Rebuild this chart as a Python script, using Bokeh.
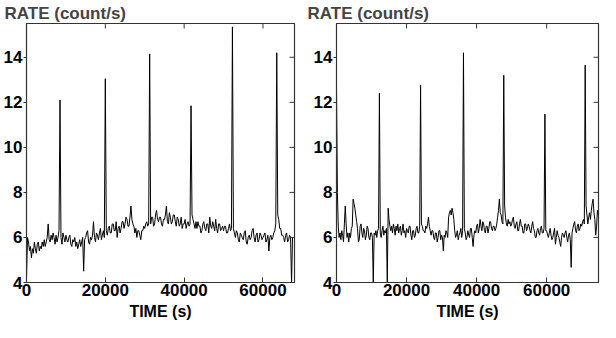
import math
from bokeh.plotting import figure
from bokeh.models import Range1d, FixedTicker
from bokeh.layouts import row
from bokeh.embed import file_html
from bokeh.resources import INLINE

# ---- data ----
BIN = 250  # seconds per bin

left_rate = [
    4.2, 6.0, 5.8, 5.4, 5.6, 5.1, 5.5, 5.3, 5.8, 5.5, 5.3, 5.7, 5.8, 5.4, 5.6, 5.5, 5.8, 5.6, 5.9, 5.6,
    5.8, 6.0, 6.6, 5.9, 5.8, 6.1, 5.9, 6.2, 6.0, 5.7, 6.1, 5.8, 6.0, 6.3, 12.1, 6.0, 5.7, 6.2, 6.0, 5.8,
    6.1, 5.9, 5.8, 6.0, 6.1, 5.7, 5.6, 5.9, 5.8, 6.0, 5.6, 5.8, 5.5, 5.7, 5.9, 5.6, 5.8, 6.0, 4.5, 5.9,
    6.0, 6.2, 6.3, 5.8, 5.7, 6.0, 5.9, 6.1, 6.7, 6.0, 5.8, 6.2, 6.1, 5.9, 6.2, 6.4, 5.9, 6.1, 6.3, 6.0,
    13.05, 6.3, 6.1, 6.4, 6.5, 6.2, 6.2, 6.6, 6.6, 6.3, 6.3, 6.7, 6.0, 6.4, 6.5, 6.2, 6.4, 6.7, 6.7, 6.4,
    6.6, 6.9, 6.8, 6.5, 6.5, 6.9, 7.4, 6.8, 6.6, 6.5, 6.2, 6.4, 6.0, 6.3, 6.3, 6.1, 5.9, 6.3, 6.3, 6.5,
    6.4, 6.6, 6.7, 6.5, 6.6, 14.15, 6.6, 6.9, 6.9, 6.5, 6.6, 7.0, 7.2, 6.8, 6.7, 6.9, 6.9, 6.6, 6.5, 6.8,
    6.8, 7.0, 7.4, 6.7, 6.6, 7.1, 6.9, 6.6, 6.7, 7.0, 7.0, 6.7, 6.5, 6.9, 6.8, 6.5, 6.6, 6.9, 6.4, 6.6,
    6.6, 6.8, 6.4, 6.6, 6.7, 6.5, 6.6, 11.85, 7.0, 6.8, 6.6, 6.4, 6.7, 6.4, 6.7, 6.5, 6.5, 6.2, 6.3, 6.6,
    6.7, 6.4, 6.3, 6.6, 6.6, 6.2, 6.9, 6.5, 6.4, 6.7, 6.5, 6.3, 6.8, 6.4, 6.2, 6.6, 6.6, 6.3, 6.4, 6.5,
    6.3, 6.5, 6.5, 6.2, 6.2, 6.4, 6.6, 6.3, 6.4, 15.35, 6.4, 6.2, 6.0, 6.3, 6.2, 5.9, 5.8, 6.2, 6.1, 6.0,
    5.9, 6.2, 6.3, 5.8, 5.7, 6.0, 6.1, 5.9, 6.0, 6.3, 6.4, 6.0, 5.8, 6.1, 6.2, 5.8, 5.9, 6.2, 6.1, 5.9,
    6.0, 6.1, 6.2, 5.8, 5.9, 6.1, 5.4, 6.0, 6.1, 5.9, 6.0, 6.2, 6.3, 6.6, 14.2, 7.0, 6.8, 6.4, 6.4, 6.1,
    6.1, 6.0, 5.8, 6.1, 6.2, 5.8, 5.9, 6.1, 6.0, 4.0, 6.0,
]

right_rate = [
    12.6, 8.0, 6.5, 6.0, 6.2, 5.9, 6.3, 6.1, 5.8, 6.6, 7.4, 6.6, 6.0, 6.2, 5.8, 6.2, 6.0, 6.4, 6.5, 7.7,
    7.5, 7.3, 7.0, 6.7, 6.4, 5.8, 5.9, 6.5, 6.6, 6.2, 6.0, 6.4, 6.3, 5.9, 6.1, 6.5, 6.4, 6.0, 5.9, 6.2,
    6.2, 6.0, 4.0, 6.2, 6.1, 6.3, 6.0, 6.3, 6.4, 12.4, 6.2, 6.0, 6.3, 6.5, 6.1, 6.3, 6.2, 6.4, 4.0, 7.3,
    6.8, 6.5, 6.3, 6.5, 6.2, 6.6, 6.4, 6.1, 6.5, 6.3, 6.6, 6.2, 6.4, 6.5, 6.1, 6.3, 6.6, 6.2, 6.3, 6.0,
    6.4, 6.3, 6.2, 6.5, 6.5, 6.1, 5.9, 6.3, 6.3, 6.0, 6.1, 6.4, 6.5, 6.2, 6.2, 6.5, 12.77, 6.6, 6.5, 6.3,
    6.3, 6.2, 6.5, 6.4, 6.6, 6.9, 6.5, 6.3, 6.1, 6.3, 6.3, 6.0, 5.9, 6.2, 6.2, 5.8, 6.0, 6.3, 6.3, 5.9,
    6.1, 6.0, 5.4, 6.1, 6.0, 6.3, 6.2, 6.0, 6.9, 7.1, 7.2, 7.0, 7.3, 7.1, 6.8, 6.3, 6.0, 6.1, 6.3, 5.9,
    6.1, 6.2, 6.4, 6.0, 6.3, 14.2, 6.4, 6.2, 5.9, 6.0, 6.3, 6.1, 6.0, 6.4, 6.4, 6.0, 5.6, 6.1, 6.3, 6.2,
    6.5, 6.6, 6.2, 6.4, 6.8, 6.5, 6.3, 6.7, 6.6, 6.3, 6.2, 6.5, 6.5, 6.2, 6.4, 6.7, 6.7, 6.4, 6.3, 6.5,
    6.5, 6.3, 6.4, 6.6, 6.9, 7.2, 7.7, 7.1, 7.0, 6.7, 6.6, 13.2, 7.4, 6.9, 6.6, 6.5, 6.8, 6.6, 6.7, 6.5,
    6.6, 6.8, 6.9, 6.5, 6.4, 6.6, 6.7, 6.3, 6.3, 6.6, 6.8, 6.5, 6.5, 6.2, 6.2, 6.6, 6.6, 6.3, 6.4, 6.6,
    6.5, 6.3, 6.2, 6.5, 6.7, 6.4, 6.3, 6.0, 6.0, 6.3, 6.4, 6.2, 6.1, 6.4, 6.5, 6.2, 6.2, 6.4, 11.48, 6.3,
    6.3, 6.1, 6.0, 6.2, 6.4, 6.1, 5.9, 6.0, 6.2, 6.4, 5.7, 6.0, 6.3, 6.1, 6.0, 5.8, 5.6, 6.0, 6.2, 6.1,
    6.0, 6.2, 6.3, 6.0, 5.8, 6.1, 6.2, 5.9, 4.67, 6.2, 6.4, 6.6, 6.7, 6.3, 6.2, 6.5, 6.6, 6.3, 6.4, 6.6,
    6.5, 6.7, 6.8, 6.6, 13.65, 7.4, 7.0, 6.6, 6.9, 7.1, 6.8, 7.2, 7.5, 7.7, 7.1, 6.8, 6.1, 6.5, 7.2, 7.0,
]

left_time = [i * BIN for i in range(len(left_rate))]
right_time = [i * BIN for i in range(len(right_rate))]

x_ticks = [0, 20000, 40000, 60000]
y_ticks = [4, 6, 8, 10, 12, 14]
Y_MIN, Y_MAX = 4, 15.5

FONT = "Liberation Sans"
AX_COL = "#333333"


def make(t, r, xmax, width, bl, br, title_offset):
    p = figure(width=width, height=322,
               x_range=Range1d(0, xmax), y_range=Range1d(Y_MIN, Y_MAX),
               output_backend="svg", toolbar_location=None,
               min_border_left=bl, min_border_right=br,
               min_border_top=0, min_border_bottom=0,
               x_axis_label="TIME (s)", title="RATE (count/s)")
    p.grid.visible = False
    p.outline_line_color = AX_COL
    p.outline_line_width = 1.2
    p.background_fill_color = "white"
    p.border_fill_color = "white"

    p.title.text_font = FONT
    p.title.text_font_style = "bold"
    p.title.text_font_size = "17px"
    p.title.align = "left"
    p.title.offset = title_offset
    p.title.standoff = 2

    p.line(t, r, line_color="black", line_width=1)

    # mirrored inward ticks on the top and right frame edges (dash markers
    # centred on the edge; the outer half is clipped by the frame)
    p.scatter(x=[xmax] * len(y_ticks), y=y_ticks, marker="dash", size=10,
              line_color=AX_COL, line_width=1)
    p.scatter(x=x_ticks, y=[Y_MAX] * len(x_ticks), marker="dash", size=10,
              angle=math.pi / 2, line_color=AX_COL, line_width=1)

    xa = p.xaxis[0]
    xa.ticker = FixedTicker(ticks=x_ticks)
    xa.major_tick_in = 5
    xa.major_tick_out = 0
    xa.minor_tick_line_color = None
    xa.axis_line_color = AX_COL
    xa.major_tick_line_color = AX_COL
    xa.major_label_text_font = FONT
    xa.major_label_text_font_style = "bold"
    xa.major_label_text_font_size = "17px"
    xa.major_label_text_color = "black"
    xa.major_label_standoff = 1
    xa.axis_label_text_font = FONT
    xa.axis_label_text_font_style = "bold"
    xa.axis_label_text_font_size = "16px"
    xa.axis_label_text_color = "black"
    xa.axis_label_standoff = 4

    ya = p.yaxis[0]
    ya.ticker = FixedTicker(ticks=y_ticks)
    ya.major_tick_in = 0
    ya.major_tick_out = 3
    ya.minor_tick_line_color = None
    ya.axis_line_color = AX_COL
    ya.major_tick_line_color = AX_COL
    ya.major_label_text_font = FONT
    ya.major_label_text_font_style = "bold"
    ya.major_label_text_font_size = "17px"
    ya.major_label_text_color = "black"
    ya.major_label_standoff = 1
    return p


p1 = make(left_time, left_rate, 68000, 304, 22, 10, -22)
p2 = make(right_time, right_rate, 74800, 296, 32, 2, -29)

layout = row(p1, p2)
open("out.html", "w").write(file_html(layout, INLINE))
